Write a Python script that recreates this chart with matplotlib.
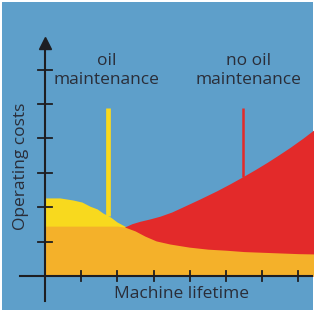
import matplotlib
matplotlib.use('Agg')
import matplotlib.pyplot as plt

# curve data, in (lifetime, cost) units
oil_x = [0, 0.41, 0.77, 1.02, 1.24, 1.44, 1.60, 1.80, 1.99, 2.15, 2.29, 2.6]
oil_y = [2.27, 2.27, 2.21, 2.15, 2.03, 1.95, 1.83, 1.72, 1.57, 1.48, 1.40, 1.2]

base_x = [0, 1.0, 2.0, 2.21, 2.49, 2.76, 3.07, 3.45, 3.98, 4.5, 5.0, 5.5, 6.0, 6.5, 7.0, 7.5]
base_y = [1.45, 1.45, 1.45, 1.42, 1.31, 1.16, 1.02, 0.93, 0.84, 0.78, 0.75, 0.71, 0.69, 0.67, 0.65, 0.64]

no_oil_x = [2.1, 2.21, 2.4, 2.62, 2.90, 3.18, 3.5, 3.81, 4.28, 4.75, 5.11, 5.47, 5.80, 6.13, 6.44, 6.77, 7.13, 7.49]
no_oil_y = [1.3, 1.43, 1.52, 1.59, 1.66, 1.74, 1.86, 2.01, 2.24, 2.48, 2.68, 2.89, 3.09, 3.30, 3.51, 3.74, 4.01, 4.30]

x_ticks = [1, 2, 3, 4, 5, 6, 7]
y_ticks = [1, 2, 3, 4, 5, 6]

oil_marker = (1.74, 4.88, 1.74)     # x, top, bottom
no_oil_marker = (5.47, 4.88, 2.89)

BLUE = '#5e9fca'
YELLOW = '#f8d91e'
ORANGE = '#f4b12a'
RED = '#e32a2a'
INK = '#1e1e22'
TEXT = '#2a2d38'

plt.rcParams['font.family'] = ['Open Sans', 'DejaVu Sans']

fig = plt.figure(figsize=(3.16, 3.13), dpi=100, facecolor='white')
ax = fig.add_axes([2/316, 3/313, 311/316, 308/313])
ax.set_xlim(-1.188, 7.403)
ax.set_ylim(-0.988, 7.965)
ax.axis('off')
ax.add_patch(plt.Rectangle((0, 0), 1, 1, transform=ax.transAxes, color=BLUE, zorder=0))

# areas: the orange base sits on top of both, so it trims them
ax.fill_between(oil_x, 0, oil_y, color=YELLOW, lw=0, zorder=1)
ax.fill_between(no_oil_x, 0, no_oil_y, color=RED, lw=0, zorder=1)
ax.fill_between(base_x, 0, base_y, color=ORANGE, lw=0, zorder=2)

# marker lines
ax.plot([oil_marker[0]] * 2, oil_marker[1:], color=YELLOW, lw=3.4, solid_capstyle='butt', zorder=1)
ax.plot([no_oil_marker[0]] * 2, no_oil_marker[1:], color=RED, lw=1.8, solid_capstyle='butt', zorder=1)

# axes lines
ax.plot([0, 0], [-0.73, 6.75], color=INK, lw=1.5, zorder=5)
ax.plot([-0.69, 7.6], [0, 0], color=INK, lw=1.5, zorder=5)
ax.plot(0, 6.77, marker='^', ms=8, color=INK, zorder=5)
for t in x_ticks:
    ax.plot([t, t], [-0.145, 0.145], color=INK, lw=1.3, zorder=5)
for t in y_ticks:
    ax.plot([-0.18, 0.18], [t, t], color=INK, lw=1.3, zorder=5)

# labels
ax.text(1.71, 5.97, 'oil\nmaintenance', ha='center', va='center', fontsize=12.5,
        color=TEXT, linespacing=1.25)
ax.text(5.61, 5.97, 'no oil\nmaintenance', ha='center', va='center', fontsize=12.5,
        color=TEXT, linespacing=1.25)
ax.text(3.77, -0.52, 'Machine lifetime', ha='center', va='center', fontsize=12.5, color=TEXT)
ax.text(-0.66, 3.18, 'Operating costs', ha='center', va='center', rotation=90,
        fontsize=12.5, color=TEXT)

fig.savefig('out.png', dpi=100, facecolor='white')
